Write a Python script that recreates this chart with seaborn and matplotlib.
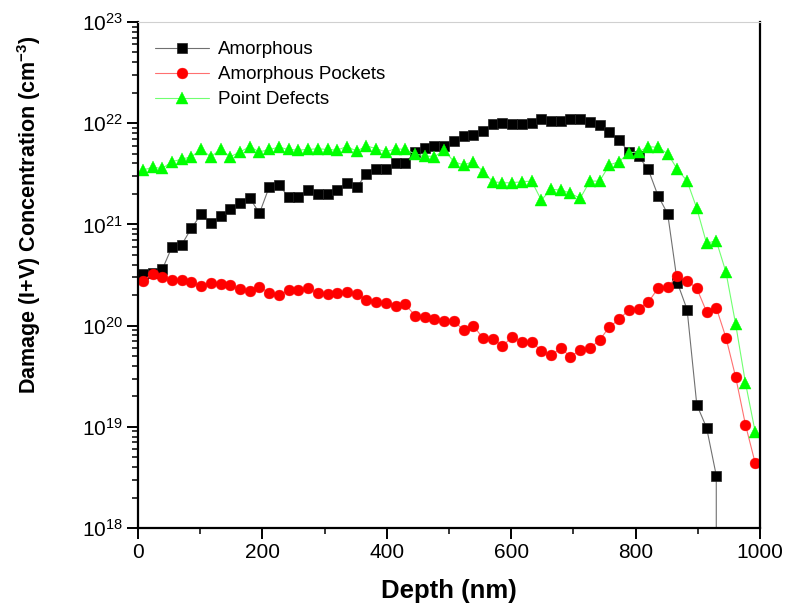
import numpy as np
import pandas as pd
import matplotlib
matplotlib.use("Agg")
import matplotlib.pyplot as plt
import seaborn as sns
from matplotlib.ticker import LogLocator, MultipleLocator

# ---------------- data ----------------
depth = [7.8, 23.4, 39.1, 54.7, 70.3, 85.9, 101.6, 117.2, 132.8, 148.4,
         164.1, 179.7, 195.3, 210.9, 226.6, 242.2, 257.8, 273.4, 289.1, 304.7,
         320.3, 335.9, 351.6, 367.2, 382.8, 398.4, 414.1, 429.7, 445.3, 460.9,
         476.6, 492.2, 507.8, 523.4, 539.1, 554.7, 570.3, 585.9, 601.6, 617.2,
         632.8, 648.4, 664.1, 679.7, 695.3, 710.9, 726.6, 742.2, 757.8, 773.4,
         789.1, 804.7, 820.3, 835.9, 851.6, 867.2, 882.8, 898.4, 914.1, 929.7,
         945.3, 960.9, 976.6, 992.2]

amorphous = [3.2e20, 3.3e20, 3.6e20, 6.0e20, 6.3e20, 9.2e20, 1.26e21, 1.03e21, 1.2e21, 1.42e21,
             1.62e21, 1.82e21, 1.29e21, 2.34e21, 2.45e21, 1.86e21, 1.87e21, 2.18e21, 2.0e21, 2.0e21,
             2.18e21, 2.57e21, 2.33e21, 3.15e21, 3.56e21, 3.56e21, 4.0e21, 4.05e21, 5.2e21, 5.7e21,
             5.9e21, 5.9e21, 6.6e21, 7.5e21, 7.6e21, 8.4e21, 9.8e21, 1.01e22, 9.8e21, 9.8e21,
             1.01e22, 1.09e22, 1.06e22, 1.06e22, 1.09e22, 1.09e22, 1.02e22, 9.5e21, 8.2e21, 6.8e21,
             5.2e21, 4.7e21, 3.5e21, 1.93e21, 1.27e21, 2.65e20, 1.44e20, 1.65e19, 9.8e18, 3.3e18,
             0.0]

pockets = [2.78e20, 3.24e20, 3.0e20, 2.8e20, 2.8e20, 2.68e20, 2.46e20, 2.65e20, 2.6e20, 2.5e20,
           2.28e20, 2.2e20, 2.42e20, 2.1e20, 2.0e20, 2.24e20, 2.24e20, 2.33e20, 2.1e20, 2.07e20,
           2.1e20, 2.16e20, 2.07e20, 1.79e20, 1.70e20, 1.66e20, 1.55e20, 1.63e20, 1.25e20, 1.21e20,
           1.16e20, 1.12e20, 1.10e20, 9.1e19, 1.0e20, 7.5e19, 7.4e19, 6.3e19, 7.7e19, 6.9e19,
           6.9e19, 5.65e19, 5.1e19, 5.97e19, 4.93e19, 5.74e19, 6.0e19, 7.2e19, 9.7e19, 1.15e20,
           1.43e20, 1.47e20, 1.70e20, 2.33e20, 2.42e20, 3.09e20, 2.78e20, 2.33e20, 1.37e20, 1.50e20,
           7.6e19, 3.1e19, 1.05e19, 4.4e18]

point_defects = [3.44e21, 3.66e21, 3.58e21, 4.17e21, 4.4e21, 4.67e21, 5.5e21, 4.67e21, 5.5e21, 4.67e21,
                 5.2e21, 5.87e21, 5.2e21, 5.5e21, 5.78e21, 5.5e21, 5.43e21, 5.5e21, 5.6e21, 5.5e21,
                 5.43e21, 5.87e21, 5.3e21, 5.96e21, 5.6e21, 5.2e21, 5.6e21, 5.5e21, 4.96e21, 4.77e21,
                 4.67e21, 5.43e21, 4.17e21, 3.86e21, 4.17e21, 3.31e21, 2.64e21, 2.58e21, 2.58e21, 2.64e21,
                 2.68e21, 1.74e21, 2.22e21, 2.19e21, 2.03e21, 1.81e21, 2.68e21, 2.68e21, 3.86e21, 4.17e21,
                 5.1e21, 5.2e21, 5.87e21, 5.78e21, 5.0e21, 3.5e21, 2.68e21, 1.44e21, 6.5e20, 6.9e20,
                 3.37e20, 1.03e20, 2.73e19, 8.96e18]

series_names = ["Amorphous", "Amorphous Pockets", "Point Defects"]
x_ticks = [0, 200, 400, 600, 800, 1000]

# ---------------- style ----------------
sns.set_style("ticks")
plt.rcParams["font.family"] = ["Liberation Sans", "DejaVu Sans"]
plt.rcParams["mathtext.fontset"] = "custom"
plt.rcParams["mathtext.rm"] = "Liberation Sans"
plt.rcParams["mathtext.it"] = "Liberation Sans:italic"
plt.rcParams["mathtext.bf"] = "Liberation Sans:bold"
for key in ["text.color", "axes.labelcolor", "xtick.color", "ytick.color"]:
    plt.rcParams[key] = "black"

fig = plt.figure(figsize=(7.87, 6.16), dpi=100)
ax = fig.add_axes([138 / 787, 1 - 528 / 616, 622 / 787, 506 / 616])

sns.lineplot(x=depth[:len(amorphous)], y=amorphous, ax=ax, color="#707070",
             linewidth=0.8, marker="s", markersize=6.8, markerfacecolor="black",
             markeredgecolor="#222222", markeredgewidth=0.5,
             label=series_names[0], sort=False, errorbar=None)
sns.lineplot(x=depth, y=pockets, ax=ax, color="#ff7070",
             linewidth=0.8, marker="o", markersize=7.8, markerfacecolor="#ff0000",
             markeredgecolor="#ff0000", markeredgewidth=0.3,
             label=series_names[1], sort=False, errorbar=None)
sns.lineplot(x=depth, y=point_defects, ax=ax, color="#70ff70",
             linewidth=0.8, marker="^", markersize=9, markerfacecolor="#00ff00",
             markeredgecolor="#00ff00", markeredgewidth=0.3,
             label=series_names[2], sort=False, errorbar=None)

ax.set_yscale("log")
ax.set_ylim(1e18, 1e23)
ax.set_xlim(0, 1000)
ax.set_xticks(x_ticks)
ax.xaxis.set_minor_locator(MultipleLocator(100))
ax.yaxis.set_major_locator(LogLocator(base=10, numticks=10))
ax.yaxis.set_minor_locator(LogLocator(base=10, subs=np.arange(2, 10), numticks=20))

for side in ["left", "bottom", "right"]:
    ax.spines[side].set_visible(True)
    ax.spines[side].set_color("black")
    ax.spines[side].set_linewidth(1.6)
ax.spines["top"].set_visible(True)
ax.spines["top"].set_color("#d0d0d0")
ax.spines["top"].set_linewidth(0.8)

ax.tick_params(axis="both", which="major", direction="out", length=8, width=1.4,
               labelsize=15, color="black", labelcolor="black", pad=3)
ax.tick_params(axis="both", which="minor", direction="out", length=4.5, width=1.1,
               color="black")
ax.tick_params(top=False, right=False, which="both")

ax.set_xlabel("Depth (nm)", fontsize=18.5, fontweight="bold", labelpad=12, color="black")
ax.set_ylabel(r"Damage (I+V) Concentration (cm$^{\mathbf{-3}}$)",
              fontsize=15.5, fontweight="bold", color="black")
ax.yaxis.set_label_coords(-0.153, 0.62)

leg = ax.legend(loc="upper left", bbox_to_anchor=(0.027, 0.962), frameon=False,
                fontsize=13.5, handlelength=2.9, handletextpad=0.45,
                labelspacing=0.42, borderpad=0, borderaxespad=0)
for t in leg.get_texts():
    t.set_color("black")

fig.savefig("out.png", dpi=100)
